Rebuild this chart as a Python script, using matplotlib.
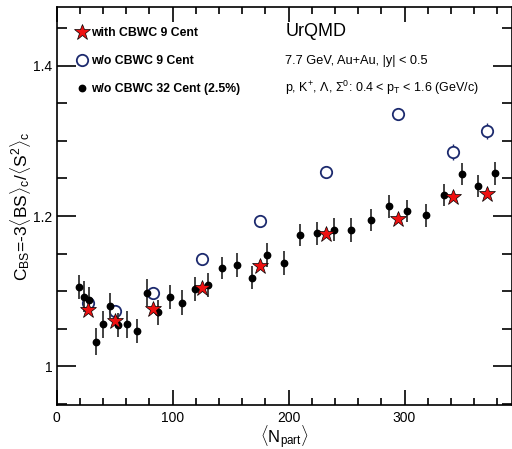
import numpy as np
import matplotlib
matplotlib.use('Agg')
import matplotlib.pyplot as plt

# w/o CBWC, 32 centrality bins (2.5%)
npart_32 = [19.5, 23.6, 28.2, 33.7, 39.8, 46.0, 53.3, 60.8, 69.4, 78.3, 87.8, 97.6,
            108.3, 119.2, 130.5, 142.6, 155.2, 168.2, 181.8, 195.9, 209.7, 224.1,
            239.1, 254.0, 270.8, 286.6, 302.5, 318.6, 334.1, 349.2, 363.3, 378.0]
cbs_32 = [1.106, 1.093, 1.088, 1.033, 1.056, 1.081, 1.055, 1.056, 1.047, 1.098, 1.072, 1.092,
          1.085, 1.103, 1.108, 1.131, 1.135, 1.118, 1.148, 1.138, 1.175, 1.177,
          1.182, 1.182, 1.195, 1.213, 1.207, 1.201, 1.228, 1.256, 1.240, 1.257]
err_32 = [0.016, 0.020, 0.017, 0.018, 0.018, 0.016, 0.016, 0.018, 0.016, 0.018, 0.017, 0.016,
          0.016, 0.016, 0.016, 0.015, 0.016, 0.015, 0.016, 0.016, 0.015, 0.015,
          0.015, 0.016, 0.015, 0.015, 0.015, 0.015, 0.015, 0.015, 0.015, 0.015]

# 9 centrality bins
npart_9 = [26.8, 50.0, 83.0, 125.3, 175.1, 232.0, 294.7, 341.9, 370.8]
cbs_cbwc = [1.075, 1.061, 1.076, 1.104, 1.133, 1.176, 1.196, 1.226, 1.230]
err_cbwc = [0.004, 0.004, 0.004, 0.004, 0.004, 0.004, 0.004, 0.005, 0.005]
cbs_nocbwc = [1.084, 1.074, 1.097, 1.143, 1.193, 1.259, 1.336, 1.285, 1.313]
err_nocbwc = [0.004, 0.004, 0.004, 0.004, 0.004, 0.004, 0.004, 0.011, 0.011]

plt.rcParams['font.family'] = ['Liberation Sans', 'DejaVu Sans']
plt.rcParams['mathtext.fontset'] = 'custom'
plt.rcParams['mathtext.rm'] = 'Liberation Sans'
plt.rcParams['mathtext.it'] = 'Liberation Sans'

fig = plt.figure(figsize=(5.12, 4.49), dpi=100)
ax = fig.add_axes([0.1107, 0.0969, 0.8893, 0.8881])

navy = '#1c2a6e'

# open circles: bars hidden behind a white face, dots drawn on top
ax.errorbar(npart_9, cbs_nocbwc, yerr=err_nocbwc, fmt='none', ecolor=navy, elinewidth=1.0, zorder=2)
hno, = ax.plot(npart_9, cbs_nocbwc, 'o', mfc='white', mec=navy, mew=1.3, ms=8.2, zorder=3,
               label='w/o CBWC 9 Cent')

ax.errorbar(npart_32, cbs_32, yerr=err_32, fmt='none', ecolor='0.2', elinewidth=1.3, zorder=4)
h32, = ax.plot(npart_32, cbs_32, 'o', color='k', ms=4.6, zorder=5, label='w/o CBWC 32 Cent (2.5%)')

ax.errorbar(npart_9, cbs_cbwc, yerr=err_cbwc, fmt='none', ecolor='k', elinewidth=1.0, zorder=6)
hcb, = ax.plot(npart_9, cbs_cbwc, '*', mfc='#ee1111', mec='k', mew=0.5, ms=12, zorder=7,
               label='with CBWC 9 Cent')

ax.set_xlim(0, 392.7)
ax.set_ylim(0.948, 1.4785)
ax.set_xticks([0, 100, 200, 300])
ax.set_xticks(np.arange(0, 400, 20), minor=True)
ax.set_yticks([1.0, 1.2, 1.4])
ax.set_yticklabels(['1', '1.2', '1.4'])
ax.set_yticks(np.arange(0.95, 1.48, 0.05), minor=True)
ax.tick_params(which='both', direction='in', top=True, right=True, labelsize=10, width=1.2)
ax.tick_params(axis='x', which='major', length=11, pad=4)
ax.tick_params(axis='x', which='minor', length=5)
ax.tick_params(axis='y', which='major', length=14, pad=3)
ax.tick_params(axis='y', which='minor', length=7.5)
for s in ax.spines.values():
    s.set_linewidth(1.2)

ax.set_xlabel(r'$\langle$N$_{\mathregular{part}}\rangle$', fontsize=12, labelpad=-1)
ax.set_ylabel(r'C$_{\mathregular{BS}}$=-3$\langle$BS$\rangle_{\mathregular{c}}$/$\langle$S$^{\mathregular{2}}\rangle_{\mathregular{c}}$',
              fontsize=12.5, labelpad=0.5)

ax.legend(handles=[hcb, hno, h32], loc='upper left', bbox_to_anchor=(0.017, 0.979),
          frameon=False, handlelength=0.9, handletextpad=0.25, labelspacing=1.3,
          borderaxespad=0.6, prop={'size': 8.8, 'weight': 'bold'})

ax.text(0.502, 0.937, 'UrQMD', transform=ax.transAxes, fontsize=13, va='center')
ax.text(0.502, 0.865, '7.7 GeV, Au+Au, |y| < 0.5', transform=ax.transAxes, fontsize=9.2, va='center')
ax.text(0.502, 0.796, r'p, K$^{+}$, $\Lambda$, $\Sigma^{0}$: 0.4 < p$_{\mathregular{T}}$ < 1.6 (GeV/c)',
        transform=ax.transAxes, fontsize=9, va='center')

fig.savefig('out.png', dpi=100)
